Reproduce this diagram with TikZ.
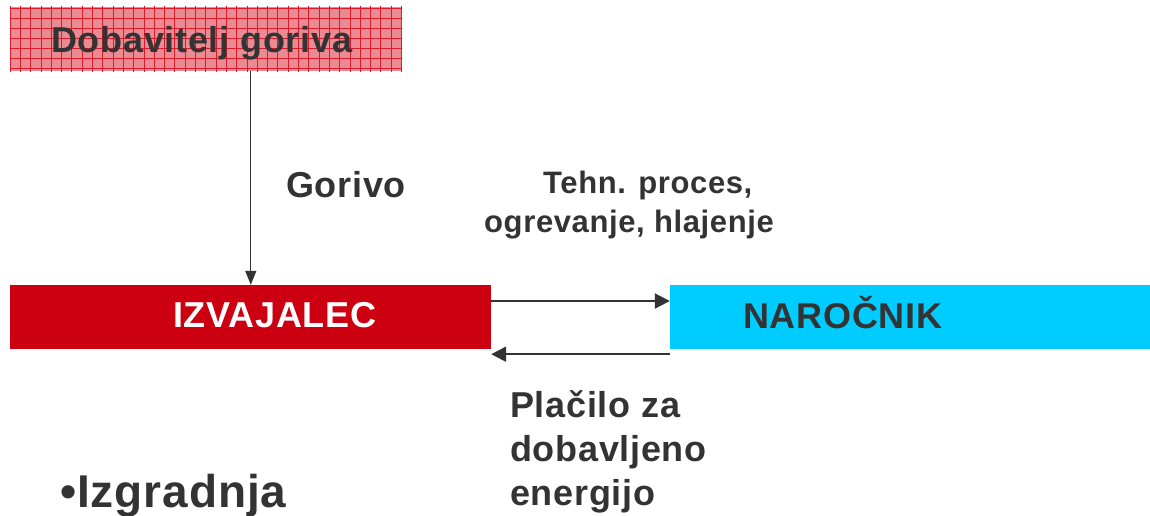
\documentclass[tikz,border=0pt]{standalone}
\usepackage{fontspec}
\setmainfont{Liberation Sans}
\newfontfamily\lsf[LetterSpace=2]{Liberation Sans}
\usetikzlibrary{arrows.meta}
\definecolor{txt}{HTML}{333333}
\definecolor{izvred}{HTML}{CC0011}
\definecolor{narcyan}{HTML}{00CCFF}
\definecolor{pinkfill}{HTML}{EA8A92}
\definecolor{gridred}{HTML}{DD1A2A}
\tikzset{
  box/.style={draw=none, inner sep=0pt, minimum height=64pt},
  lbl/.style={anchor=base west, inner sep=0pt, text=txt, font=\lsf\bfseries\fontsize{36}{42}\selectfont},
  smalllbl/.style={lbl, font=\lsf\bfseries\fontsize{31}{37}\selectfont},
  arr/.style={draw=txt, line width=2pt, -{Triangle[length=15pt,width=15pt]}},
  varr/.style={draw=txt, line width=1.2pt, -{Triangle[length=14pt,width=11pt]}}
}
\begin{document}
\begin{tikzpicture}[x=1pt,y=-1pt]
\useasboundingbox (0,0) rectangle (1150,515);
% boxes
\node[box, fill=pinkfill, minimum width=392pt] (dob) at (206,39) {};
\begin{scope}
  \clip (dob.south west) rectangle (dob.north east);
  \foreach \i in {0,...,39} {
    \draw[gridred, line width=0.7pt] (10+\i*10.3,0) -- (10+\i*10.3,80);
  }
  \foreach \j in {0,...,7} {
    \draw[gridred, line width=0.7pt] (0,8+\j*10) -- (410,8+\j*10);
  }
\end{scope}
\node[box, fill=izvred, minimum width=481pt] (izv) at (250.5,317) {};
\node[box, fill=narcyan, minimum width=480pt] (nar) at (910,317) {};
% texts
\node[lbl] (tdob) at (51,52) {Dobavitelj goriva};
\node[lbl] (tgor) at (286,197) {Gorivo};
\node[lbl, text=white] (tizv) at (173,327) {IZVAJALEC};
\node[lbl] (tnar) at (743,328) {NAROČNIK};
\node[smalllbl] (tteh) at (543,193) {Tehn. proces,};
\node[smalllbl] (togr) at (484,232) {ogrevanje, hlajenje};
\node[lbl] (tpl1) at (510,417) {Plačilo za};
\node[lbl] (tpl2) at (510,461) {dobavljeno};
\node[lbl] (tpl3) at (510,505) {energijo};
\node[lbl, font=\lsf\bfseries\fontsize{46}{52}\selectfont] (tizg) at (60,507) {•Izgradnja};
% connectors
\draw[varr] ([xshift=241pt]dob.south west) -- ([xshift=241pt]izv.north west);
\draw[arr] ([yshift=16pt]izv.east) -- ([yshift=16pt]nar.west);
\draw[arr] ([yshift=-5pt]nar.south west) -- ([yshift=-5pt]izv.south east);
\end{tikzpicture}
\end{document}
